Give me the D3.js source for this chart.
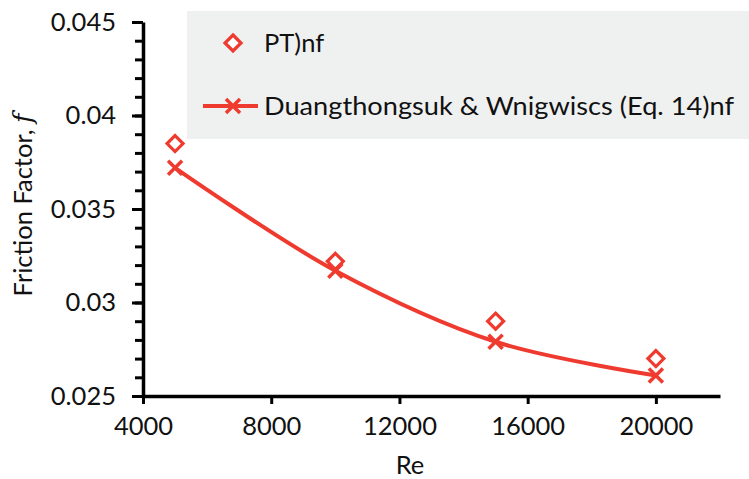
<!DOCTYPE html>
<html><head><meta charset="utf-8">
<script src="https://cdn.jsdelivr.net/npm/d3@7"></script>
<style>
body{margin:0;background:#fff;}
text{font-family:Lato,"Open Sans",sans-serif;fill:#111;}
</style></head>
<body>
<svg id="chart" width="749" height="479"></svg>
<script>
// Reynolds numbers and friction factors
const reynolds = [5000, 10000, 15000, 20000];
const measured = [0.0385, 0.0322, 0.0290, 0.0270];      // PT)nf
const correlation = [0.0372, 0.0317, 0.0279, 0.0261];   // Eq. 14
const xTicks = [4000, 8000, 12000, 16000, 20000];
const yTicks = [0.025, 0.03, 0.035, 0.04, 0.045];
const seriesNames = ["PT)nf", "Duangthongsuk & Wnigwiscs (Eq. 14)nf"];

const red = "#ef3b2f";
const fs = 25.5;
const svg = d3.select("#chart");
const m = {left: 143, right: 720, top: 22, bottom: 396};

const x = d3.scaleLinear().domain([4000, 22000]).range([m.left, m.right]);
const y = d3.scaleLinear().domain([0.025, 0.045]).range([m.bottom, m.top]);

// legend panel
svg.append("rect").attr("x", 187).attr("y", 11).attr("width", 562).attr("height", 128).attr("fill", "#eff0f0");

// y axis with minor ticks
const yMinor = d3.range(0, 21).map(i => 0.025 + i * 0.001);
svg.append("g").attr("transform", `translate(${m.left},0)`)
  .call(d3.axisLeft(y).tickValues(yMinor).tickSize(8).tickFormat(""))
  .call(g => g.selectAll("line").attr("stroke", "#000").attr("stroke-width", 3))
  .call(g => g.select(".domain").remove());
const yAx = svg.append("g").attr("transform", `translate(${m.left},0)`)
  .call(d3.axisLeft(y).tickValues(yTicks).tickSize(11).tickSizeOuter(0).tickPadding(16).tickFormat(d => String(+d.toFixed(3))));
yAx.select(".domain").attr("stroke", "#000").attr("stroke-width", 3.5);
yAx.selectAll("line").attr("stroke", "#000").attr("stroke-width", 3);
yAx.selectAll("text").attr("font-size", fs).attr("font-family", "Lato, sans-serif").attr("fill", "#111");

// x axis
const xAx = svg.append("g").attr("transform", `translate(0,${m.bottom})`)
  .call(d3.axisBottom(x).tickValues(xTicks).tickSize(8).tickSizeOuter(0).tickPadding(13).tickFormat(d3.format("d")));
xAx.select(".domain").attr("stroke", "#000").attr("stroke-width", 3.5);
xAx.selectAll("line").attr("stroke", "#000").attr("stroke-width", 3);
xAx.selectAll("text").attr("font-size", fs).attr("font-family", "Lato, sans-serif").attr("fill", "#111");

// axis titles
svg.append("text").attr("x", 410).attr("y", 474).attr("text-anchor", "middle").attr("font-size", fs).text("Re");
const yt = svg.append("text").attr("transform", "translate(32,205) rotate(-90)").attr("text-anchor", "middle").attr("font-size", fs);
yt.append("tspan").text("Friction Factor, ");
yt.append("tspan").attr("font-style", "italic").attr("font-family", "DejaVu Serif, serif").text("f");

// correlation curve
const line = d3.line().x((d, i) => x(reynolds[i])).y(d => y(d)).curve(d3.curveCatmullRom.alpha(0.5));
svg.append("path").datum(correlation).attr("d", line).attr("fill", "none").attr("stroke", red).attr("stroke-width", 4);

// markers
const diamond = (cx, cy, s) => `M${cx},${cy - s}L${cx + s},${cy}L${cx},${cy + s}L${cx - s},${cy}Z`;
const cross = (cx, cy, s) => `M${cx - s},${cy - s}L${cx + s},${cy + s}M${cx - s},${cy + s}L${cx + s},${cy - s}`;

svg.append("g").selectAll("path").data(measured).join("path")
  .attr("d", (d, i) => diamond(x(reynolds[i]), y(d), 8))
  .attr("fill", "#fff").attr("stroke", red).attr("stroke-width", 3.2);
svg.append("g").selectAll("path").data(correlation).join("path")
  .attr("d", (d, i) => cross(x(reynolds[i]), y(d), 7))
  .attr("fill", "none").attr("stroke", red).attr("stroke-width", 3.5);

// legend entries
svg.append("path").attr("d", diamond(233, 43, 8)).attr("fill", "#fff").attr("stroke", red).attr("stroke-width", 3.2);
svg.append("text").attr("x", 264).attr("y", 52).attr("font-size", fs).text(seriesNames[0]);
svg.append("line").attr("x1", 203).attr("x2", 258).attr("y1", 106).attr("y2", 106).attr("stroke", red).attr("stroke-width", 4);
svg.append("path").attr("d", cross(233, 106, 7)).attr("fill", "none").attr("stroke", red).attr("stroke-width", 3.5);
svg.append("text").attr("x", 264).attr("y", 115).attr("font-size", fs)
  .attr("textLength", 470).attr("lengthAdjust", "spacingAndGlyphs").text(seriesNames[1]);
</script>
</body></html>
